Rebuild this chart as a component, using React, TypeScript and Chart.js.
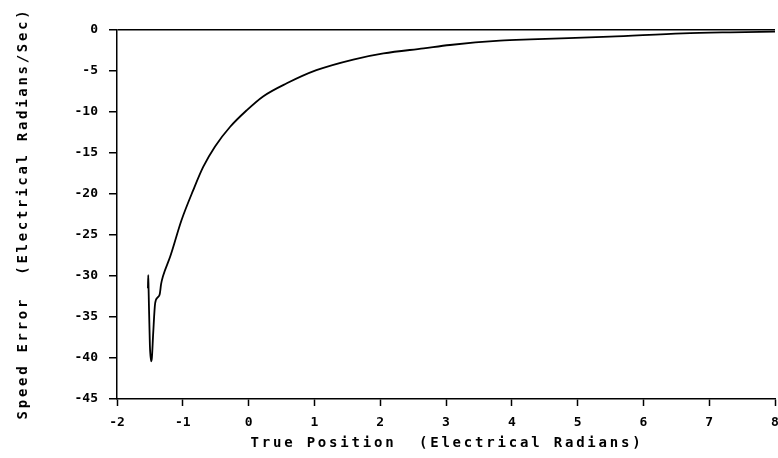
import React, { useEffect, useRef } from "react";
import { Chart, registerables } from "chart.js";

Chart.register(...registerables);

const positionValues = [
  -1.53, -1.525, -1.52, -1.5, -1.48, -1.47, -1.45, -1.42, -1.38, -1.35, -1.33, -1.3,
  -1.19, -1.02, -0.84, -0.69, -0.51, -0.28, -0.03, 0.22, 0.58, 1.03, 1.59, 2.05,
  2.66, 3.06, 3.82, 4.28, 5.49, 6.6, 7.32, 8.0,
];
const speedErrorValues = [
  -31.5, -29.9, -31.6, -38.5, -40.4, -40.0, -37.0, -33.3, -32.6, -32.2, -31.0, -30.0,
  -27.6, -23.2, -19.5, -16.7, -14.2, -11.8, -9.8, -8.1, -6.5, -4.9, -3.6, -2.85,
  -2.24, -1.83, -1.3, -1.14, -0.82, -0.41, -0.28, -0.2,
];

const xTitle = "True Position  (Electrical Radians)";
const yTitle = "Speed Error  (Electrical Radians/Sec)";

const FONT = "'DejaVu Sans Mono', 'Liberation Mono', monospace";

const spacedTitles = {
  id: "spacedTitles",
  afterDraw(chart: any) {
    const ctx = chart.ctx as CanvasRenderingContext2D;
    const area = chart.chartArea;
    ctx.save();
    ctx.fillStyle = "#000";
    ctx.font = `bold 14px ${FONT}`;
    (ctx as any).letterSpacing = "2.8px";
    ctx.textAlign = "center";
    ctx.textBaseline = "middle";
    ctx.fillText(xTitle, (area.left + area.right) / 2 + 1, area.bottom + 44);
    ctx.translate(23, (area.top + area.bottom) / 2);
    ctx.rotate(-Math.PI / 2);
    (ctx as any).letterSpacing = "2.7px";
    ctx.fillText(yTitle, 1, 0);
    ctx.restore();
  },
};

export default function App() {
  const canvasRef = useRef<HTMLCanvasElement | null>(null);

  useEffect(() => {
    const canvas = canvasRef.current;
    if (!canvas) return;
    const points = positionValues.map((x, i) => ({ x, y: speedErrorValues[i] }));
    const chart = new Chart(canvas, {
      type: "line",
      data: {
        datasets: [
          {
            data: points,
            borderColor: "#000",
            borderWidth: 1.8,
            pointRadius: 0,
            cubicInterpolationMode: "monotone",
            fill: false,
          },
        ],
      },
      options: {
        responsive: false,
        animation: false,
        devicePixelRatio: 1,
        layout: { padding: { top: 30, right: 3, left: 0, bottom: 0 } },
        plugins: { legend: { display: false }, tooltip: { enabled: false } },
        scales: {
          x: {
            type: "linear",
            min: -2,
            max: 8,
            border: { color: "#000", width: 1.5 },
            grid: {
              drawOnChartArea: false,
              drawTicks: true,
              tickLength: 7,
              tickColor: "#000",
              tickWidth: 1.5,
            },
            ticks: {
              stepSize: 1,
              color: "#000",
              font: { family: FONT, size: 13, weight: "bold" },
              padding: 9,
              maxRotation: 0,
              autoSkip: false,
            },
            title: { display: false, text: xTitle },
            afterFit: (scale: any) => {
              scale.height = 59;
              scale.paddingRight = 0;
              scale.paddingLeft = 0;
            },
          },
          y: {
            type: "linear",
            min: -45,
            max: 0,
            border: { color: "#000", width: 1.5 },
            grid: {
              drawOnChartArea: true,
              drawTicks: true,
              tickLength: 8,
              color: (ctx: any) => (ctx.tick && ctx.tick.value === 0 ? "#000" : "rgba(0,0,0,0)"),
              lineWidth: 1.5,
              tickColor: "#000",
              tickWidth: 1.5,
            },
            ticks: {
              stepSize: 5,
              color: "#000",
              font: { family: FONT, size: 13, weight: "bold" },
              padding: 11,
            },
            title: { display: false, text: yTitle },
            afterFit: (scale: any) => {
              scale.width = 117;
            },
          },
        },
      },
      plugins: [spacedTitles],
    });
    return () => chart.destroy();
  }, []);

  return (
    <div style={{ position: "absolute", left: 0, top: 0, width: 778, height: 458, background: "#fff" }}>
      <canvas ref={canvasRef} width={778} height={458} style={{ display: "block", width: 778, height: 458 }} />
    </div>
  );
}
